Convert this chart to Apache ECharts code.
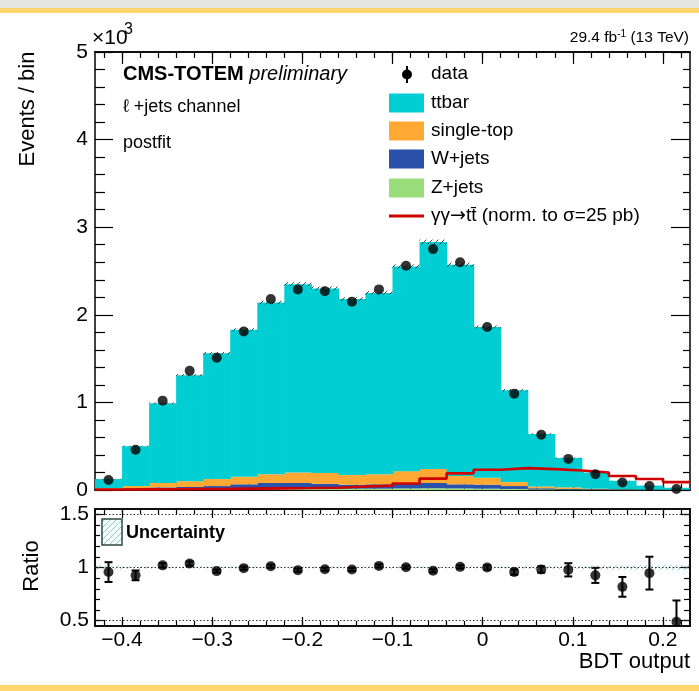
<!DOCTYPE html>
<html><head><meta charset="utf-8">
<script src="https://cdn.jsdelivr.net/npm/echarts@6/dist/echarts.min.js"></script>
<style>html,body{margin:0;padding:0;background:#fff}#c{width:699px;height:691px}</style>
</head><body><div id="c"></div>
<script>
// ---- data (events in units of 10^3) ----
const binEdges = [-0.43,-0.40,-0.37,-0.34,-0.31,-0.28,-0.25,-0.22,-0.19,-0.16,-0.13,-0.10,-0.07,-0.04,-0.01,0.02,0.05,0.08,0.11,0.14,0.17,0.20,0.23];
const zjets  = [0.004,0.005,0.008,0.010,0.010,0.012,0.015,0.015,0.015,0.015,0.015,0.018,0.020,0.018,0.015,0.012,0.008,0.005,0.003,0.002,0.001,0.001];
const wjets  = [0.006,0.015,0.022,0.025,0.035,0.053,0.065,0.065,0.055,0.045,0.050,0.052,0.060,0.047,0.045,0.033,0.012,0.007,0.005,0.002,0.001,0.0005];
const stop   = [0.010,0.025,0.050,0.065,0.080,0.085,0.100,0.120,0.125,0.110,0.115,0.145,0.160,0.095,0.080,0.045,0.020,0.018,0.007,0.004,0.002,0.001];
const ttbar  = [0.105,0.455,0.910,1.210,1.435,1.680,1.960,2.150,2.105,2.010,2.070,2.335,2.590,2.410,1.720,1.050,0.600,0.335,0.185,0.097,0.046,0.023];
const signal = [0.005,0.007,0.009,0.011,0.013,0.016,0.019,0.022,0.026,0.040,0.050,0.075,0.130,0.190,0.232,0.250,0.238,0.222,0.200,0.160,0.125,0.090];
const data   = [0.115,0.460,1.020,1.360,1.510,1.810,2.180,2.290,2.270,2.150,2.290,2.560,2.750,2.600,1.860,1.100,0.630,0.355,0.180,0.085,0.045,0.012];
const ratio    = [0.957,0.926,1.020,1.037,0.966,0.994,1.012,0.975,0.984,0.981,1.015,1.003,0.969,1.006,1.000,0.957,0.981,0.978,0.926,0.818,0.947,0.490];
const ratioErr = [0.093,0.046,0.020,0.020,0.015,0.015,0.015,0.015,0.015,0.015,0.015,0.015,0.015,0.015,0.020,0.025,0.030,0.062,0.071,0.093,0.154,0.200];
const relUnc   = [0.020,0.012,0.010,0.010,0.010,0.010,0.010,0.010,0.010,0.010,0.010,0.010,0.010,0.010,0.010,0.012,0.014,0.016,0.018,0.020,0.022,0.024];
const xMajor = [-0.4,-0.3,-0.2,-0.1,0,0.1,0.2];
const yMainTicks = [0,1,2,3,4,5];
const rMajor = [0.5,1,1.5];
const refLines = [0.5,1,1.5];

const FONT = '"Liberation Sans", Arial, Helvetica, "DejaVu Sans", sans-serif';
const X0 = binEdges[0], X1 = binEdges[binEdges.length-1];
const xMinor = []; for (let k=0; k<=32; k++) xMinor.push(+(-0.42 + 0.02*k).toFixed(2));
const rMinor = []; for (let k=0; k<=10; k++) rMinor.push(+(0.5 + 0.1*k).toFixed(2));

const nb = data.length;
const centers = [], lows = [], highs = [];
for (let i=0;i<nb;i++){ lows.push(binEdges[i]); highs.push(binEdges[i+1]); centers.push((binEdges[i]+binEdges[i+1])/2); }

// stacking
const comps = [zjets, wjets, stop, ttbar];
const cum = comps.map(()=>[]);
for (let i=0;i<nb;i++){ let b=0; comps.forEach((c,j)=>{ cum[j].push([lows[i],highs[i],b,b+c[i]]); b+=c[i]; }); }
const total = []; for (let i=0;i<nb;i++) total.push(comps.reduce((s,c)=>s+c[i],0));

function hatch(color, bg, lw){
  const c=document.createElement('canvas'); c.width=c.height=6; const g=c.getContext('2d');
  if(bg){g.fillStyle=bg; g.fillRect(0,0,6,6);}
  g.strokeStyle=color; g.lineWidth=lw||1; g.beginPath();
  g.moveTo(0,6); g.lineTo(6,0); g.moveTo(-1,1); g.lineTo(1,-1); g.moveTo(5,7); g.lineTo(7,5); g.stroke();
  return c;
}
const hatchDark = {image: hatch('rgba(40,40,40,0.85)', null, 1), repeat:'repeat'};
const hatchTeal = {image: hatch('#7fd0c8', null, 1), repeat:'repeat'};
const hatchTealBox = {image: hatch('#7fd0c8', '#ffffff', 1), repeat:'repeat'};

function rectRender(fill, pad){
  return function(params, api){
    const lo=api.value(0), hi=api.value(1), b=api.value(2), t=api.value(3);
    const p0=api.coord([lo,t]), p1=api.coord([hi,b]);
    return {type:'rect', shape:{x:p0[0], y:p0[1], width:p1[0]-p0[0]+(pad||0), height:p1[1]-p0[1]}, style:{fill:fill}};
  };
}
const colors = {ttbar:'#00CED3', stop:'#FFA833', wjets:'#2A52AA', zjets:'#98DC7C', signal:'#D00000'};
const compColors = [colors.zjets, colors.wjets, colors.stop, colors.ttbar];

function fmtX(v){ if (Math.abs(v)<1e-9) return '0'; return (v<0?'\u2212':'') + Math.abs(v).toFixed(1); }
function xAx(grid, pos, vals, len, labels){
  return {type:'value', gridIndex:grid, position:pos, min:X0, max:X1,
    axisLine:{show:true, onZero:false, lineStyle:{color:'#000', width:1.5}},
    axisTick:{show:true, inside:true, length:len, customValues:vals, lineStyle:{color:'#000', width:1.2}},
    axisLabel: labels ? {show:true, customValues:vals, fontSize:21, fontFamily:FONT, color:'#000', margin:4, formatter:fmtX} : {show:false},
    splitLine:{show:false}, minorTick:{show:false}};
}
function rAx(pos, vals, len, labels){
  return {type:'value', gridIndex:1, position:pos, min:0.45, max:1.55,
    axisLine:{show:true, onZero:false, lineStyle:{color:'#000', width:1.5}},
    axisTick:{show:true, inside:true, length:len, customValues:vals, lineStyle:{color:'#000', width:1.2}},
    axisLabel: labels ? {show:true, customValues:vals, fontSize:21, fontFamily:FONT, color:'#000', margin:6, formatter:(v)=>String(+v.toFixed(2))} : {show:false},
    splitLine:{show:false}};
}
function mAx(pos, len, mlen, labels){
  return {type:'value', gridIndex:0, position:pos, min:yMainTicks[0], max:yMainTicks[yMainTicks.length-1], interval:1,
    axisLine:{show:true, onZero:false, lineStyle:{color:'#000', width:1.5}},
    axisTick:{show:true, inside:true, length:len, lineStyle:{color:'#000', width:1.2}},
    minorTick:{show:true, splitNumber:5, length:mlen, lineStyle:{color:'#000', width:1.2}},
    axisLabel: labels ? {show:true, fontSize:21, fontFamily:FONT, color:'#000', margin:7} : {show:false},
    splitLine:{show:false}, minorSplitLine:{show:false}};
}

const series = [];
comps.forEach((c,j)=>{
  series.push({type:'custom', xAxisIndex:0, yAxisIndex:0, clip:true, renderItem:rectRender(compColors[j], 0.6),
    encode:{x:[0,1], y:[2,3]}, data:cum[j], z:2});
});
series.push({type:'custom', xAxisIndex:0, yAxisIndex:0, clip:true, renderItem:rectRender(hatchDark, 0),
  encode:{x:[0,1], y:[2,3]}, data: total.map((t,i)=>[lows[i],highs[i],t*(1-relUnc[i]),t*(1+relUnc[i])]), z:3});
const sigPts = signal.map((v,i)=>[lows[i], v]); sigPts.push([highs[nb-1], signal[nb-1]]);
series.push({type:'line', xAxisIndex:0, yAxisIndex:0, step:'end', symbol:'none', data:sigPts,
  lineStyle:{color:colors.signal, width:2.6}, z:4});
series.push({type:'scatter', xAxisIndex:0, yAxisIndex:0, symbol:'circle', symbolSize:10,
  itemStyle:{color:'#000'}, data: data.map((v,i)=>[centers[i], v]), z:5});
// ratio panel
series.push({type:'custom', xAxisIndex:4, yAxisIndex:2, clip:true, renderItem:rectRender(hatchTeal, 0),
  encode:{x:[0,1], y:[2,3]}, data: relUnc.map((u,i)=>[lows[i],highs[i],1-u,1+u]), z:2});
series.push({type:'custom', xAxisIndex:4, yAxisIndex:2, clip:true,
  renderItem:function(params, api){
    const x=api.value(0), lo=api.value(2), hi=api.value(3);
    const a=api.coord([x,lo]), b=api.coord([x,hi]);
    const st={stroke:'#000', lineWidth:2};
    return {type:'group', children:[
      {type:'line', shape:{x1:a[0],y1:a[1],x2:b[0],y2:b[1]}, style:st},
      {type:'line', shape:{x1:a[0]-4,y1:a[1],x2:a[0]+4,y2:a[1]}, style:st},
      {type:'line', shape:{x1:b[0]-4,y1:b[1],x2:b[0]+4,y2:b[1]}, style:st}]};
  },
  encode:{x:0, y:[2,3]}, data: ratio.map((r,i)=>[centers[i], r, r-ratioErr[i], r+ratioErr[i]]), z:4});
series.push({type:'scatter', xAxisIndex:4, yAxisIndex:2, symbol:'circle', symbolSize:10,
  itemStyle:{color:'#000'}, data: ratio.map((r,i)=>[centers[i], r]), z:5,
  markLine:{silent:true, symbol:'none', label:{show:false}, animation:false,
    lineStyle:{color:'#333', width:1, type:[1.5,2]}, data: refLines.map(v=>({yAxis:v}))}});

function txt(x,y,text,size,opts){
  return Object.assign({type:'text', x:x, y:y, silent:true, style:Object.assign({text:text, fontSize:size, fontFamily:FONT, fill:'#000', textAlign:'left', textVerticalAlign:'middle'}, (opts&&opts.style)||{})}, (opts&&opts.el)||{});
}
const legendItems = [
  {name:'ttbar', color:colors.ttbar, y:103},
  {name:'single-top', color:colors.stop, y:131},
  {name:'W+jets', color:colors.wjets, y:159},
  {name:'Z+jets', color:colors.zjets, y:188}
];
const graphic = [
  {type:'rect', shape:{x:0,y:0,width:699,height:8}, style:{fill:'#e4e4e2'}, silent:true},
  {type:'rect', shape:{x:0,y:8,width:699,height:5}, style:{fill:'#FFD76E'}, silent:true},
  {type:'rect', shape:{x:0,y:685,width:699,height:6}, style:{fill:'#FFD76E'}, silent:true},
  txt(92,38,'\u00d710',21),
  txt(124,30,'3',16),
  txt(689,38,'{a|29.4 fb}{s|-1}{a| (13 TeV)}',15.5,{style:{textAlign:'right', rich:{a:{fontSize:15.5, fontFamily:FONT, lineHeight:18}, s:{fontSize:10, fontFamily:FONT, lineHeight:10, verticalAlign:'top'}}}}),
  txt(28,109,'Events / bin',22,{style:{textAlign:'center'}, el:{rotation:Math.PI/2}}),
  txt(32,566,'Ratio',22,{style:{textAlign:'center'}, el:{rotation:Math.PI/2}}),
  txt(690,662,'BDT output',22,{style:{textAlign:'right'}}),
  txt(123,74,'{b|CMS-TOTEM} {i|preliminary}',20,{style:{rich:{b:{fontSize:20, fontWeight:'bold', fontFamily:FONT}, i:{fontSize:20, fontStyle:'italic', fontFamily:FONT}}}}),
  txt(123,107,'\u2113 +jets channel',18),
  txt(123,143,'postfit',18),
  // legend
  {type:'line', shape:{x1:407,y1:66,x2:407,y2:83}, style:{stroke:'#000', lineWidth:2}, silent:true},
  {type:'circle', shape:{cx:407,cy:74.5,r:5}, style:{fill:'#000'}, silent:true},
  txt(431,74,'data',19),
  {type:'line', shape:{x1:389,y1:216,x2:424,y2:216}, style:{stroke:colors.signal, lineWidth:3}, silent:true},
  txt(431,216,'{a|\u03b3\u03b3}{r|\u2192}{a|tt\u0304 (norm. to \u03c3=25 pb)}',19,{style:{rich:{a:{fontSize:19, fontFamily:FONT}, r:{fontSize:19, fontFamily:'"DejaVu Sans", sans-serif'}}}}),
  // uncertainty legend in ratio
  {type:'rect', shape:{x:102,y:519,width:20,height:26}, style:{fill:hatchTealBox, stroke:'#2c4a48', lineWidth:1.5}, silent:true},
  txt(126,533,'Uncertainty',18,{style:{fontWeight:'bold'}})
];
legendItems.forEach(it=>{
  graphic.push({type:'rect', shape:{x:389,y:it.y-9.5,width:35,height:19}, style:{fill:it.color}, silent:true});
  graphic.push(txt(431,it.y,it.name,19));
});

const option = {
  animation:false,
  backgroundColor:'#fff',
  grid:[{left:95, top:52, width:595, height:438}, {left:95, top:509, width:595, height:117}],
  xAxis:[
    xAx(0,'bottom',xMajor,12,false), xAx(0,'bottom',xMinor,6,false),
    xAx(0,'top',xMajor,12,false), xAx(0,'top',xMinor,6,false),
    xAx(1,'bottom',xMajor,9,true), xAx(1,'bottom',xMinor,5,false),
    xAx(1,'top',xMajor,9,false), xAx(1,'top',xMinor,5,false)
  ],
  yAxis:[
    mAx('left',18,10,true), mAx('right',19,7,false),
    rAx('left',rMajor,10,true), rAx('left',rMinor,5,false),
    rAx('right',rMajor,10,false), rAx('right',rMinor,6,false)
  ],
  series: series,
  graphic: graphic
};
const chart = echarts.init(document.getElementById('c'), null, {renderer:'canvas'});
chart.setOption(option);
</script></body></html>
